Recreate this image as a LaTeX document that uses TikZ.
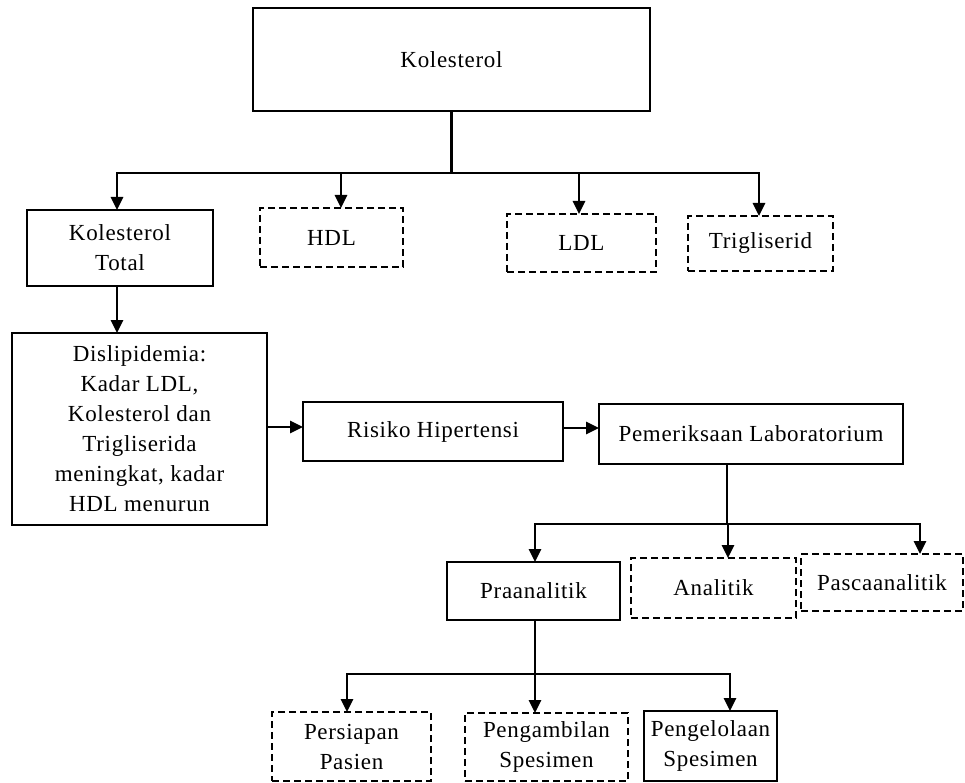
\documentclass[tikz,border=0pt]{standalone}
\usepackage{fontspec}
\setmainfont{Liberation Serif}[LetterSpace=3]
\usetikzlibrary{arrows.meta}
\begin{document}
\begin{tikzpicture}[x=1pt,y=-1pt,
  box/.style={draw,line width=1.3pt,inner sep=0pt,outer sep=0pt,align=center,
    font=\fontsize{23}{30}\selectfont},
  dbox/.style={box,dash pattern=on 7pt off 4pt},
  link/.style={line width=2.8pt},
  arr/.style={link,-{Triangle[width=12pt,length=13pt]}}]
\useasboundingbox (0,0) rectangle (965,783);
% top level
\node[box,minimum width=397,minimum height=103] (kol) at (451.5,59.5) {Kolesterol};
\node[box,minimum width=186,minimum height=76] (kolTotal) at (120,248) {Kolesterol\\Total};
\node[dbox,minimum width=143,minimum height=59] (hdl) at (331.5,237.5) {HDL};
\node[dbox,minimum width=149,minimum height=58] (ldl) at (581.5,243) {LDL};
\node[dbox,minimum width=145,minimum height=55] (trig) at (760.5,243.5) {Trigliserid};
% middle row
\node[box,minimum width=255,minimum height=192] (dis) at (139.5,429)
  {Dislipidemia:\\Kadar LDL,\\Kolesterol dan\\Trigliserida\\meningkat, kadar\\HDL menurun};
\node[box,minimum width=260,minimum height=59] (risiko) at (433,431.5) {Risiko Hipertensi};
\node[box,minimum width=304,minimum height=60] (pem) at (751,434) {Pemeriksaan Laboratorium};
% lab stages
\node[box,minimum width=173,minimum height=58] (pra) at (533.5,591) {Praanalitik};
\node[dbox,minimum width=165,minimum height=60] (ana) at (713.5,588) {Analitik};
\node[dbox,minimum width=162,minimum height=57] (pas) at (882,582.5) {Pascaanalitik};
% praanalitik
\node[dbox,minimum width=159,minimum height=69] (persiapan) at (351.5,746.5) {Persiapan\\Pasien};
\node[dbox,minimum width=163,minimum height=68] (pengambilan) at (546.5,747) {Pengambilan\\Spesimen};
\node[box,minimum width=133,minimum height=70] (pengelolaan) at (710.5,746) {Pengelolaan\\Spesimen};

\coordinate (k1) at (451.5,173);
\draw[link] (kol.south) -- (k1);
\draw[arr] (k1) -| ([xshift=-3pt]kolTotal.north);
\draw[arr] (k1) -| ([xshift=9.5pt]hdl.north);
\draw[arr] (k1) -| ([xshift=-2.5pt]ldl.north);
\draw[arr] (k1) -| ([xshift=-1.5pt]trig.north);

\draw[arr] ([xshift=-3pt]kolTotal.south) -- ([xshift=-3pt]kolTotal.south |- dis.north);
\draw[arr] (dis.east |- 0,427) -- (risiko.west |- 0,427);
\draw[arr] (risiko.east |- 0,428) -- (pem.west |- 0,428);

\coordinate (p1) at (727,524);
\draw[link] (pem.south -| p1) -- (p1);
\draw[arr] (p1) -| ([xshift=1.5pt]pra.north);
\draw[arr] (p1) -| ([xshift=14.5pt]ana.north);
\draw[arr] (p1) -| ([xshift=38pt]pas.north);

\coordinate (q1) at (535,674);
\draw[link] (pra.south -| q1) -- (q1);
\draw[arr] (q1) -| ([xshift=-4.5pt]persiapan.north);
\draw[arr] (q1) -| ([xshift=-11.5pt]pengambilan.north);
\draw[arr] (q1) -| ([xshift=19.5pt]pengelolaan.north);
\end{tikzpicture}
\end{document}
